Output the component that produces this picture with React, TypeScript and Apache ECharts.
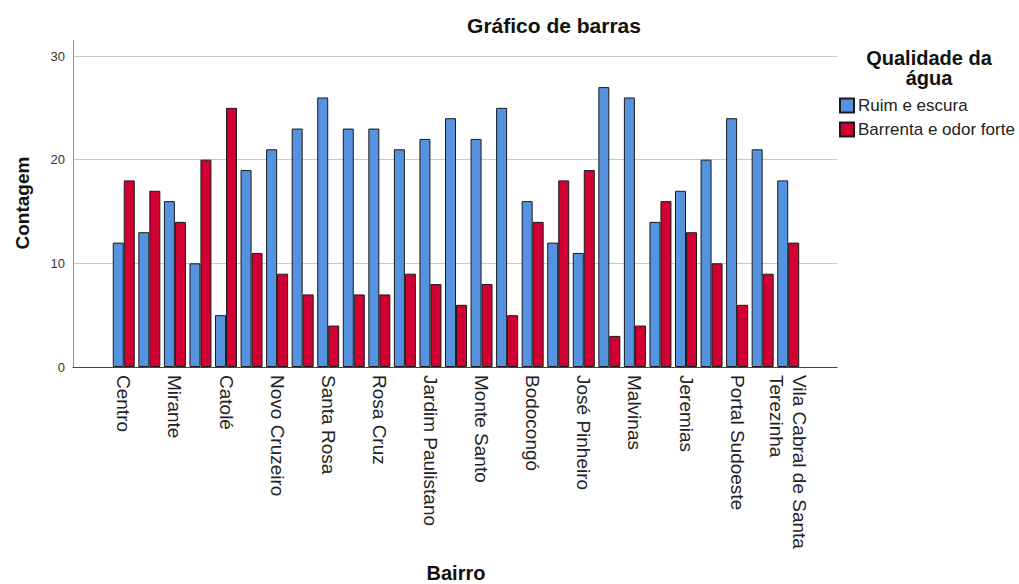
import React, { useEffect, useRef } from "react";
import * as echarts from "echarts";

const categories: string[] = [
  "Centro", "", "Mirante", "", "Catolé", "", "Novo Cruzeiro", "", "Santa Rosa", "",
  "Rosa Cruz", "", "Jardim Paulistano", "", "Monte Santo", "", "Bodocongó", "",
  "José Pinheiro", "", "Malvinas", "", "Jeremias", "", "Portal Sudoeste", "",
  "Vila Cabral de Santa\nTerezinha",
];
const ruimEscura: number[] = [12, 13, 16, 10, 5, 19, 21, 23, 26, 23, 23, 21, 22, 24, 22, 25, 16, 12, 11, 27, 26, 14, 17, 20, 24, 21, 18];
const barrentaOdor: number[] = [18, 17, 14, 20, 25, 11, 9, 7, 4, 7, 7, 9, 8, 6, 8, 5, 14, 18, 19, 3, 4, 16, 13, 10, 6, 9, 12];
const seriesNames: string[] = ["Ruim e escura", "Barrenta e odor forte"];
const yTicks: number[] = [0, 10, 20, 30];

const FONT = "'Liberation Sans', Arial, sans-serif";

export default function App() {
  const ref = useRef<HTMLDivElement>(null);
  useEffect(() => {
    if (!ref.current) return;
    const chart = echarts.init(ref.current, undefined, { renderer: "svg" });
    const yMax = yTicks[yTicks.length - 1];
    chart.setOption({
      animation: false,
      backgroundColor: "#ffffff",
      textStyle: { fontFamily: FONT },
      grid: [
        { left: 73, top: 56, width: 764, height: 311 },
        { left: 111, top: 56, width: 690, height: 311 },
      ],
      xAxis: [
        {
          gridIndex: 0, type: "value", min: 0, max: 1,
          axisLine: { show: true, lineStyle: { color: "#444", width: 1 } },
          axisTick: { show: false }, axisLabel: { show: false }, splitLine: { show: false },
        },
        {
          gridIndex: 1, type: "category", data: categories,
          axisLine: { show: false }, axisTick: { show: false },
          axisLabel: {
            interval: 1, rotate: -90, fontSize: 19, color: "#222", margin: 8,
            fontFamily: FONT, lineHeight: 23, padding: [8, 0, 0, 0],
          },
        },
      ],
      yAxis: [
        {
          gridIndex: 0, type: "value", min: 0, max: yMax, interval: 10,
          axisLine: { show: true, lineStyle: { color: "#999", width: 1 } },
          axisTick: { show: false },
          axisLabel: { fontSize: 13, color: "#333", margin: 8, fontFamily: FONT },
          splitLine: { show: true, lineStyle: { color: "#c8c8c8", width: 1 } },
        },
        {
          gridIndex: 1, type: "value", min: 0, max: yMax, show: false,
          splitLine: { show: false },
        },
      ],
      legend: {
        orient: "vertical", left: 839, top: 97, padding: 0,
        itemWidth: 14, itemHeight: 14, itemGap: 7, icon: "rect",
        textStyle: { fontSize: 17, color: "#222", fontFamily: FONT, padding: [0, 0, 0, -1] },
        data: seriesNames,
      },
      series: [
        {
          name: seriesNames[0], type: "bar", xAxisIndex: 1, yAxisIndex: 1,
          data: ruimEscura, barWidth: 11, barGap: "0%",
          itemStyle: { color: "#5592E0", borderColor: "#1a1a1a", borderWidth: 1 },
        },
        {
          name: seriesNames[1], type: "bar", xAxisIndex: 1, yAxisIndex: 1,
          data: barrentaOdor, barWidth: 11, barGap: "0%",
          itemStyle: { color: "#D20032", borderColor: "#1a1a1a", borderWidth: 1 },
        },
      ],
      graphic: [
        { type: "line", shape: { x1: 73.5, y1: 40, x2: 73.5, y2: 56 }, style: { stroke: "#999", lineWidth: 1 } },
        {
          type: "text", x: 554, y: 25,
          style: { text: "Gráfico de barras", font: `bold 21px ${FONT}`, fill: "#111", textAlign: "center", textVerticalAlign: "middle" },
        },
        {
          type: "text", x: 456, y: 573,
          style: { text: "Bairro", font: `bold 20px ${FONT}`, fill: "#111", textAlign: "center", textVerticalAlign: "middle" },
        },
        {
          type: "text", x: 22, y: 203, rotation: Math.PI / 2,
          style: { text: "Contagem", font: `bold 19px ${FONT}`, fill: "#111", textAlign: "center", textVerticalAlign: "middle" },
        },
        {
          type: "text", x: 929, y: 48,
          style: { text: "Qualidade da\nágua", font: `bold 20px ${FONT}`, lineHeight: 20, fill: "#111", textAlign: "center", textVerticalAlign: "top" },
        },
      ],
    });
    return () => chart.dispose();
  }, []);
  return <div ref={ref} style={{ position: "fixed", left: 0, top: 0, width: 1019, height: 584 }} />;
}
